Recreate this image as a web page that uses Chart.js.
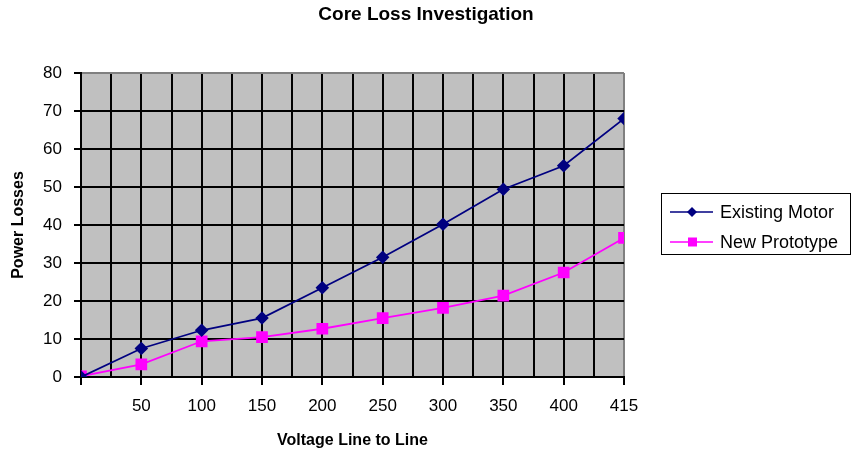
<!DOCTYPE html>
<html>
<head>
<meta charset="utf-8">
<script src="https://cdn.jsdelivr.net/npm/chart.js@4"></script>
<style>
  html, body { margin: 0; padding: 0; background: #fff; }
  #wrap { width: 852px; height: 452px; }
</style>
</head>
<body>
<div id="wrap"><canvas id="chart" width="852" height="452"></canvas></div>
<script>
// voltage categories (first one has no label on the axis)
const voltages = ['', '50', '100', '150', '200', '250', '300', '350', '400', '415'];
const existingMotor = [0, 7.5, 12.3, 15.5, 23.5, 31.5, 40.2, 49.4, 55.6, 68];
const newPrototype = [0.2, 3.3, 9.4, 10.5, 12.7, 15.5, 18.2, 21.4, 27.5, 36.6];
const yTicks = [0, 10, 20, 30, 40, 50, 60, 70, 80];

const FONT = 'Liberation Sans, Arial, sans-serif';

function toPoints(values) {
    return values.map((v, i) => ({ x: i, y: v }));
}

// grey plot area, centred title
const plotBg = {
    id: 'plotBg',
    beforeDraw(chart) {
        const a = chart.chartArea, ctx = chart.ctx;
        ctx.save();
        ctx.fillStyle = '#c0c0c0';
        ctx.fillRect(a.left, a.top, a.right - a.left, a.bottom - a.top);
        ctx.fillStyle = '#000';
        ctx.font = 'bold 19px ' + FONT;
        ctx.textAlign = 'center';
        ctx.textBaseline = 'middle';
        ctx.fillText('Core Loss Investigation', chart.width / 2, 15);
        ctx.restore();
    }
};

// Excel-style legend box on the right
const boxLegend = {
    id: 'boxLegend',
    afterDraw(chart) {
        const ctx = chart.ctx;
        const x = 661, y = 193, w = 189, h = 61;
        ctx.save();
        ctx.fillStyle = '#fff';
        ctx.fillRect(x, y, w, h);
        ctx.strokeStyle = '#000';
        ctx.lineWidth = 1;
        ctx.strokeRect(x + 0.5, y + 0.5, w, h);
        ctx.font = '18px ' + FONT;
        ctx.textBaseline = 'middle';
        chart.data.datasets.forEach((ds, i) => {
            const cy = y + 19 + i * 30;
            ctx.strokeStyle = ds.borderColor;
            ctx.lineWidth = 1.5;
            ctx.beginPath();
            ctx.moveTo(670, cy);
            ctx.lineTo(713, cy);
            ctx.stroke();
            ctx.fillStyle = ds.pointBackgroundColor;
            ctx.beginPath();
            if (ds.pointStyle === 'rect') {
                ctx.rect(688, cy - 4.5, 9, 9);
            } else {
                ctx.moveTo(692, cy - 5); ctx.lineTo(697, cy); ctx.lineTo(692, cy + 5); ctx.lineTo(687, cy);
                ctx.closePath();
            }
            ctx.fill();
            ctx.fillStyle = '#000';
            ctx.fillText(ds.label, 720, cy + 1);
        });
        ctx.restore();
    }
};

new Chart(document.getElementById('chart'), {
    type: 'line',
    data: {
        datasets: [{
            label: 'Existing Motor',
            data: toPoints(existingMotor),
            borderColor: '#000080',
            backgroundColor: '#000080',
            pointBackgroundColor: '#000080',
            pointBorderColor: '#000080',
            pointStyle: 'rectRot',
            pointRadius: 5.5,
            borderWidth: 1.8,
            tension: 0
        }, {
            label: 'New Prototype',
            data: toPoints(newPrototype),
            borderColor: '#ff00ff',
            backgroundColor: '#ff00ff',
            pointBackgroundColor: '#ff00ff',
            pointBorderColor: '#ff00ff',
            pointStyle: 'rect',
            pointRadius: 7,
            borderWidth: 1.8,
            tension: 0
        }]
    },
    options: {
        responsive: false,
        animation: false,
        layout: { padding: { left: 0, right: 228, top: 73, bottom: 0 } },
        plugins: {
            legend: { display: false },
            tooltip: { enabled: false },
            title: { display: false }
        },
        scales: {
            x: {
                type: 'linear',
                min: 0,
                max: voltages.length - 1,
                afterBuildTicks(scale) {
                    const t = [];
                    for (let v = 0; v <= voltages.length - 1; v += 0.5) t.push({ value: v });
                    scale.ticks = t;
                },
                afterFit(scale) { scale.height = 75; },
                ticks: {
                    autoSkip: false,
                    maxRotation: 0,
                    padding: 11,
                    color: '#000',
                    font: { family: FONT, size: 17 },
                    callback: v => Number.isInteger(v) ? voltages[v] : ''
                },
                grid: {
                    color: c => (c.tick && c.tick.value === voltages.length - 1) ? '#808080' : '#000',
                    tickColor: c => (c.tick && Number.isInteger(c.tick.value)) ? '#000' : 'rgba(0,0,0,0)',
                    tickLength: 8,
                    lineWidth: 2
                },
                border: { color: '#000', width: 2 },
                title: {
                    display: true,
                    text: 'Voltage Line to Line',
                    color: '#000',
                    font: { family: FONT, size: 16, weight: 'bold' },
                    padding: { top: 0, bottom: 2 }
                }
            },
            y: {
                min: 0,
                max: 80,
                afterBuildTicks(scale) {
                    scale.ticks = yTicks.map(v => ({ value: v }));
                },
                afterFit(scale) { scale.width = 81; },
                ticks: {
                    padding: 12,
                    color: '#000',
                    font: { family: FONT, size: 17 }
                },
                grid: {
                    color: c => (c.tick && c.tick.value === 80) ? '#808080' : '#000',
                    tickColor: '#000',
                    tickLength: 7,
                    lineWidth: 2
                },
                border: { color: '#000', width: 2 },
                title: {
                    display: true,
                    text: 'Power Losses',
                    color: '#000',
                    font: { family: FONT, size: 16, weight: 'bold' },
                    padding: { top: 9, bottom: 0 }
                }
            }
        }
    },
    plugins: [plotBg, boxLegend]
});
</script>
</body>
</html>
